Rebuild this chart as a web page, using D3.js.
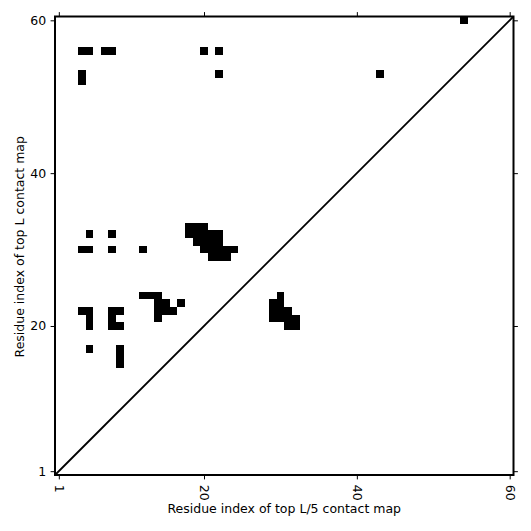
<!doctype html>
<html lang="en">
<head>
  <meta charset="utf-8" />
  <style>
    body { margin: 0; background: #fff; }
    svg text {
      font-family: "DejaVu Sans", sans-serif;
      font-size: 12.5px;
      fill: #000;
    }
    .axis path.domain { display: none; }
    .axis line { stroke: #000; stroke-width: 1; }
  </style>
</head>
<body>
  <div id="chart"></div>

  <script src="https://d3js.org/d3.v7.min.js"></script>
  <script>
    // sequence length and tick labels
    var L = 60;
    var tickValues = [1, 20, 40, 60];

    // predicted contacts as [residue i (x), residue j (y)]
    var contacts = [
      [54, 60],
      [4, 56], [5, 56], [7, 56], [8, 56], [20, 56], [22, 56],
      [4, 53], [22, 53], [43, 53],
      [4, 52],
      [18, 33], [19, 33], [20, 33],
      [5, 32], [8, 32], [18, 32], [19, 32], [20, 32], [21, 32], [22, 32],
      [19, 31], [20, 31], [21, 31], [22, 31],
      [4, 30], [5, 30], [8, 30], [12, 30], [20, 30], [21, 30], [22, 30], [23, 30], [24, 30],
      [21, 29], [22, 29], [23, 29],
      [12, 24], [13, 24], [14, 24], [30, 24],
      [14, 23], [15, 23], [17, 23], [29, 23], [30, 23],
      [4, 22], [5, 22], [8, 22], [9, 22], [14, 22], [15, 22], [16, 22], [29, 22], [30, 22], [31, 22],
      [5, 21], [8, 21], [14, 21], [29, 21], [30, 21], [31, 21], [32, 21],
      [5, 20], [8, 20], [9, 20], [31, 20], [32, 20],
      [5, 17], [9, 17],
      [9, 16],
      [9, 15]
    ];

    var xLabel = "Residue index of top L/5 contact map",
        yLabel = "Residue index of top L contact map";

    var width = 531,
        height = 531;

    // plot box (window.top is reserved, so use a box object)
    var box = {left: 55, right: 513.5, top: 16.5, bottom: 475};

    var svg = d3.select("#chart").append("svg")
        .attr("width", width)
        .attr("height", height);

    var x = d3.scaleLinear().domain([0.5, L + 0.5]).range([box.left, box.right]);
    var y = d3.scaleLinear().domain([0.5, L + 0.5]).range([box.bottom, box.top]);

    // contact cells
    svg.append("g").attr("id", "cells")
      .selectAll("rect")
      .data(contacts)
      .enter().append("rect")
        .attr("x", d => x(d[0] - 0.5))
        .attr("y", d => y(d[1] + 0.5))
        .attr("width", d => x(d[0] + 0.5) - x(d[0] - 0.5))
        .attr("height", d => y(d[1] - 0.5) - y(d[1] + 0.5))
        .attr("fill", "#000")
        .attr("shape-rendering", "crispEdges");

    // diagonal
    svg.append("line")
      .attr("x1", x(0.5)).attr("y1", y(0.5))
      .attr("x2", x(L + 0.5)).attr("y2", y(L + 0.5))
      .attr("stroke", "#000")
      .attr("stroke-width", 1.8);

    var tickLen = 4.4, tickPad = 4.4;

    // bottom axis, labels turned
    var xAxis = svg.append("g").attr("class", "axis")
      .attr("transform", "translate(0," + box.bottom + ")")
      .call(d3.axisBottom(x).tickValues(tickValues).tickSize(tickLen).tickPadding(tickPad));
    xAxis.selectAll("text")
      .attr("y", 0)
      .attr("dy", null)
      .attr("transform", "translate(0," + (tickLen + tickPad + 1) + ") rotate(90)")
      .attr("text-anchor", "start")
      .attr("dominant-baseline", "central");

    svg.append("g").attr("class", "axis")
      .attr("transform", "translate(0," + box.top + ")")
      .call(d3.axisTop(x).tickValues(tickValues).tickSize(tickLen).tickFormat(""));

    svg.append("g").attr("class", "axis")
      .attr("transform", "translate(" + box.left + ",0)")
      .call(d3.axisLeft(y).tickValues(tickValues).tickSize(tickLen).tickPadding(tickPad));

    svg.append("g").attr("class", "axis")
      .attr("transform", "translate(" + box.right + ",0)")
      .call(d3.axisRight(y).tickValues(tickValues).tickSize(tickLen).tickFormat(""));

    svg.selectAll(".axis text")
      .style("font-family", "\"DejaVu Sans\", sans-serif")
      .style("font-size", "12.5px")
      .attr("fill", "#000");

    // frame
    svg.append("rect")
      .attr("x", box.left).attr("y", box.top)
      .attr("width", box.right - box.left).attr("height", box.bottom - box.top)
      .attr("fill", "none")
      .attr("stroke", "#000")
      .attr("stroke-width", 2);

    // axis titles
    svg.append("text")
      .attr("x", (box.left + box.right) / 2)
      .attr("y", 513)
      .attr("text-anchor", "middle")
      .text(xLabel);

    svg.append("text")
      .attr("transform", "translate(24," + ((box.top + box.bottom) / 2 + 1) + ") rotate(-90)")
      .attr("text-anchor", "middle")
      .text(yLabel);
  </script>
</body>
</html>
